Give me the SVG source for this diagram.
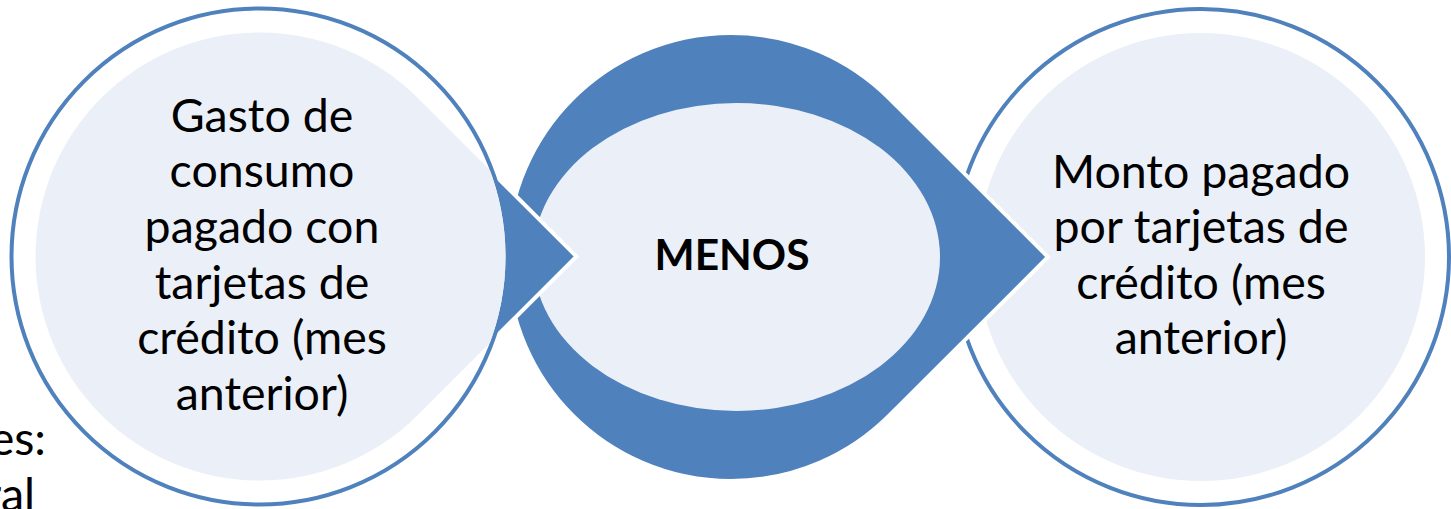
<svg xmlns="http://www.w3.org/2000/svg" width="1451" height="509" viewBox="0 0 1451 509">
  <style>
    .ring { fill: #FFFFFF; stroke: #4F81BD; stroke-width: 4; }
    .light { fill: #EBF0F8; }
    .blue { fill: #4F81BD; stroke: #FFFFFF; stroke-width: 4; stroke-linejoin: miter; }
    .lbl { font-family: Lato, "Liberation Sans", sans-serif; font-size: 46.5px; fill: #000000; text-anchor: middle; }
    .bold { font-weight: bold; font-size: 42.5px; }
    .bg { font-family: Lato, "Liberation Sans", sans-serif; font-size: 46.5px; fill: #000000; text-anchor: end; }
  </style>
  <defs>
    <clipPath id="clipLeft">
      <circle cx="259.5" cy="256.5" r="246"/>
    </clipPath>
  </defs>
  <rect width="1451" height="509" fill="#FFFFFF"/>
  <g id="background-text">
    <text class="bg" x="46" y="455">es:</text>
    <text class="bg" x="35" y="511">ral</text>
  </g>
  <g id="node-right">
    <circle class="ring" cx="1201" cy="257" r="248"/>
    <circle class="light" cx="1201" cy="257" r="224"/>
    <text class="lbl" x="1201" y="188">Monto pagado</text>
    <text class="lbl" x="1201" y="243">por tarjetas de</text>
    <text class="lbl" x="1201" y="299">crédito (mes</text>
    <text class="lbl" x="1201" y="354">anterior)</text>
  </g>
  <g id="node-middle">
    <path class="blue" d="M 889.4,98.6 L 1048,257 L 889.4,415.4 A 224 224 0 1 1 889.4,98.6 Z"/>
    <ellipse class="light" cx="736.5" cy="257" rx="203.5" ry="154"/>
    <text class="lbl bold" x="732" y="270">MENOS</text>
  </g>
  <g id="node-left">
    <path class="blue" d="M 417.9,98.1 L 576.5,256.5 L 417.9,414.9 A 224 224 0 1 1 417.9,98.1 Z"/>
    <circle class="ring" cx="259.5" cy="256.5" r="248"/>
    <path class="light" clip-path="url(#clipLeft)" d="M 417.9,98.1 L 576.5,256.5 L 417.9,414.9 A 224 224 0 1 1 417.9,98.1 Z"/>
    <text class="lbl" x="262" y="132">Gasto de</text>
    <text class="lbl" x="262" y="187">consumo</text>
    <text class="lbl" x="262" y="243">pagado con</text>
    <text class="lbl" x="262" y="299">tarjetas de</text>
    <text class="lbl" x="262" y="354">crédito (mes</text>
    <text class="lbl" x="262" y="410">anterior)</text>
  </g>
  <g id="connectors"/>
</svg>
